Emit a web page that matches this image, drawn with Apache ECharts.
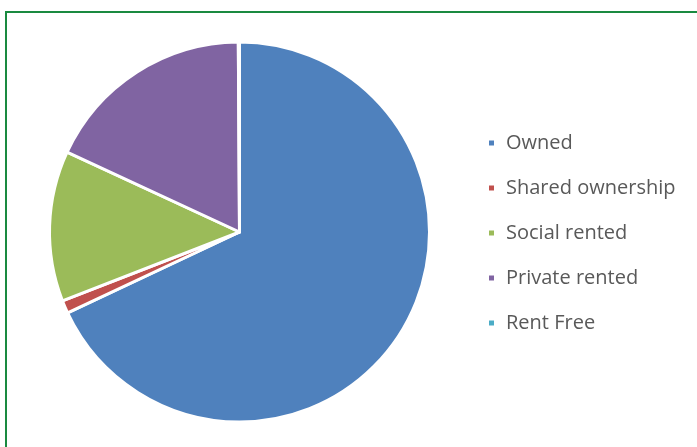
<!DOCTYPE html>
<html>
<head>
<meta charset="utf-8">
<script src="https://cdn.jsdelivr.net/npm/echarts@6/dist/echarts.min.js"></script>
<style>
html, body { margin: 0; padding: 0; background: #fff; }
#pie-chart { width: 697px; height: 447px; }
</style>
</head>
<body>
<div id="pie-chart"></div>
<script>
var categories = ['Owned', 'Shared ownership', 'Social rented', 'Private rented', 'Rent Free'];
var shares = [68.0, 1.1, 12.8, 18.0, 0.1];
var colors = ['#4f81bd', '#c0504d', '#9bbb59', '#8064a2', '#4bacc6'];

var pie_chart = document.getElementById("pie-chart");
var myChart = echarts.init(pie_chart);
var option = null;
option = {
    animation: false,
    color: colors,
    graphic: [
        {   // 外框，只看得到上边和左边
            type: 'rect',
            shape: { x: 6, y: 12, width: 720, height: 470 },
            style: { fill: 'none', stroke: '#1a8a40', lineWidth: 2 }
        }
    ],
    legend: {
        orient: 'vertical',
        left: 487,
        top: 133,
        padding: 0,
        icon: 'rect',
        itemWidth: 7,
        itemHeight: 7,
        itemGap: 25,
        data: categories,
        textStyle: {
            color: '#595959',
            fontFamily: 'Open Sans',
            fontSize: 20,
            lineHeight: 20,
            padding: [0, 0, 0, 6]
        }
    },
    series: [
        {
            name: 'Tenure',
            type: 'pie',
            center: [239.5, 232],
            radius: 190,
            startAngle: 90,
            clockwise: true,
            label: { show: false },
            labelLine: { show: false },
            itemStyle: {
                borderColor: '#fff',
                borderWidth: 3
            },
            data: categories.map(function (name, i) {
                return { name: name, value: shares[i] };
            })
        }
    ]
};
if (option && typeof option === "object") {
    myChart.setOption(option, true);
}
</script>
</body>
</html>
